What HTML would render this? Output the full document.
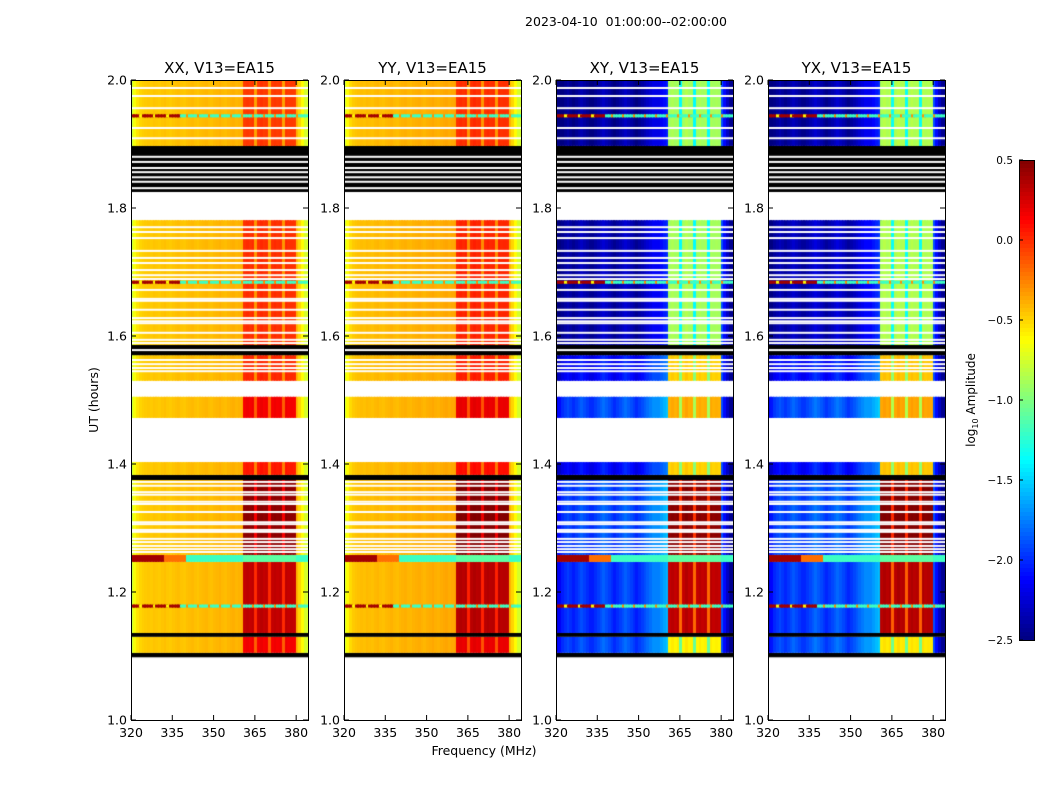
<!DOCTYPE html>
<html><head><meta charset="utf-8"><style>
body{margin:0;background:#fff;}
#wrap{position:relative;width:1050px;height:800px;overflow:hidden;font-family:"DejaVu Sans","Liberation Sans",sans-serif;}
canvas{position:absolute;}
svg{position:absolute;left:0;top:0;}
</style></head><body>
<div id="wrap">
<svg id="svg" width="1050" height="800"></svg>
</div>
<script>
// ---------- data ----------
const panelTitles = ["XX, V13=EA15","YY, V13=EA15","XY, V13=EA15","YX, V13=EA15"];
const panelLeft = [131,344,556,768];
const xTicks = [320,335,350,365,380];
const yTicks = [1.0,1.2,1.4,1.6,1.8,2.0];
const cbTicks = [0.5,0.0,-0.5,-1.0,-1.5,-2.0,-2.5];
// 64 channels 320..383 MHz; parallel-hand baseline (low part 0..40)
const baseXX = [-0.8,-0.65,-0.55,-0.5,-0.48,-0.47,-0.46,-0.47,-0.45,-0.46,-0.47,-0.45,-0.44,-0.46,-0.47,-0.45,-0.44,-0.43,-0.45,-0.46,-0.44,-0.43,-0.42,-0.44,-0.45,-0.43,-0.42,-0.41,-0.43,-0.44,-0.42,-0.41,-0.40,-0.42,-0.43,-0.41,-0.40,-0.39,-0.41,-0.40,-0.39];
const baseXY = [-2.3,-2.2,-2.1,-2.05,-2.0,-2.05,-2.1,-2.05,-2.0,-1.95,-2.0,-2.05,-2.1,-2.1,-2.05,-2.0,-1.95,-1.9,-1.95,-2.0,-2.05,-2.1,-2.05,-2.0,-1.95,-1.9,-1.95,-2.0,-2.05,-2.1,-2.05,-2.0,-1.95,-1.9,-1.85,-1.8,-1.8,-1.8,-1.75,-1.7,-1.65];
// high band channels 41..59 relative pattern
const stripe = [0,0.02,0,0.02,-0.3,0,0.03,0,0.01,-0.3,0,0.02,0,0.01,-0.3,0.02,0,0.01,0];
// right edge channels 60..63
const edgeXX = [-0.4,-0.5,-0.62,-0.75];
const edgeXY = [-1.9,-2.1,-2.3,-2.45];
// segments
const segT0 = [1.098,1.105,1.130,1.136,1.247,1.258,1.375,1.383,1.472,1.530,1.570,1.586,1.825,1.897];
const segT1 = [1.105,1.130,1.136,1.247,1.258,1.375,1.383,1.403,1.505,1.570,1.586,1.781,1.897,2.0];
const segKind = ["black","data","black","data","flag","data","black","data","data","data","black","data","black","data"];
const segHiPar = [0,0.15,0,0.3,0,0.45,0,0.05,0.15,0.0,0,-0.02,0,-0.05];
const segHiCross = [0,-0.6,0,0.3,0,0.45,0,-0.5,-0.4,-0.5,0,-0.9,0,-0.9];
const segLowCross = [0,0.1,0,0.05,0,0.1,0,-0.1,0.1,-0.1,0,-0.35,0,-0.4];
const flagRows = [1.178,1.684,1.944];
const whiteLines = [1.9875,1.975,1.956,1.925,1.909,1.880,1.872,1.8625,1.856,1.848,1.841,1.831,1.770,1.7625,1.753,1.733,1.722,1.714,1.703,1.695,1.689,1.672,1.658,1.655,1.641,1.628,1.623,1.620,1.605,1.594,1.589,1.578,1.5625,1.556,1.55,1.545,1.372,1.366,1.356,1.352,1.341,1.3375,1.325,1.309,1.306,1.297,1.294,1.283,1.278,1.272,1.267,1.2625];

// ---------- scales ----------
const TOP=80,BOT=720,W=177,XMIN=320,XMAX=384.3,VMIN=-2.5,VMAX=0.5;
const yS = t => BOT-(t-1.0)*(BOT-TOP);
const xS = (f,L) => L+(f-XMIN)/(XMAX-XMIN)*W;
function jet(v){
  let x=(v-VMIN)/(VMAX-VMIN); x=Math.max(0,Math.min(1,x));
  const c=t=>Math.round(255*Math.max(0,Math.min(1,t)));
  const r=c(1.5-Math.abs(4*x-3)), g=c(1.5-Math.abs(4*x-2)), b=c(1.5-Math.abs(4*x-1));
  return `rgb(${r},${g},${b})`;
}
function cellVal(ch,cross,hi,low,off){
  if(ch<=40) return (cross?baseXY[ch]+low:baseXX[ch])+off;
  if(ch<=59){ let s=stripe[ch-41]; return hi+(cross?s*1.6:s)+off; }
  return (cross?edgeXY[ch-60]:edgeXX[ch-60]);
}
const svg=document.getElementById('svg'), NS='http://www.w3.org/2000/svg';
function mk(tag,attrs,parent){const e=document.createElementNS(NS,tag);for(const k in attrs)e.setAttribute(k,attrs[k]);(parent||svg).appendChild(e);return e;}

panelTitles.forEach((title,p)=>{
  const L=panelLeft[p], cross=p>=2, off=(p%2)*0.03;
  const cv=document.createElement('canvas');
  cv.width=W;cv.height=BOT-TOP;cv.style.left=L+'px';cv.style.top=TOP+'px';
  
  
  document.getElementById('wrap').insertBefore(cv,svg);
  const ctx=cv.getContext('2d');
  segT0.forEach((t0,i)=>{
    const t1=segT1[i], y0=yS(t1)-TOP, h=yS(t0)-yS(t1);
    if(segKind[i]==='black'){ctx.fillStyle='#000';ctx.fillRect(0,y0,W,h);return;}
    const hi=cross?segHiCross[i]:segHiPar[i];
    for(let ch=0;ch<64;ch++){
      const xa=xS(320+ch,L)-L, xb=xS(321+ch,L)-L;
      let v=segKind[i]==='flag'?(ch<12?0.4:ch<20?-0.2:-1.2):cellVal(ch,cross,hi,segLowCross[i],off);
      if(segKind[i]==='flag'&&ch>40&&ch<60) v=-1.1;
      ctx.fillStyle=jet(v);ctx.fillRect(Math.floor(xa),y0,Math.ceil(xb-xa)+1,h);
    }
  });
  flagRows.forEach(t=>{
    const y=yS(t)-TOP-1.5;
    for(let ch=0;ch<64;ch++){
      const xa=xS(320+ch,L)-L;
      const v=ch<18?(ch%5===3?-0.6:0.4):(ch%4===0?-0.3:-1.2);
      ctx.fillStyle=jet(v);ctx.fillRect(Math.floor(xa),y,4,3);
    }
  });
  ctx.fillStyle='#fff';
  whiteLines.forEach(t=>{ctx.fillRect(0,yS(t)-TOP-1,W,2);});

  const g=mk('g',{});
  mk('rect',{x:L+0.5,y:TOP+0.5,width:W,height:BOT-TOP,fill:'none',stroke:'#000','stroke-width':1,},g);
  const tt=mk('text',{x:L+W/2,y:73,'text-anchor':'middle','font-size':15,},g);tt.textContent=title;
  xTicks.forEach(f=>{
    const x=xS(f,L);
    mk('line',{x1:x,x2:x,y1:BOT,y2:BOT-5,stroke:'#000',},g);
    mk('line',{x1:x,x2:x,y1:TOP,y2:TOP+5,stroke:'#000',},g);
    const t=mk('text',{x:x,y:737,'text-anchor':'middle','font-size':12.5,},g);t.textContent=f;
  });
  yTicks.forEach(v=>{
    const y=yS(v);
    mk('line',{x1:L,x2:L+5,y1:y,y2:y,stroke:'#000',},g);
    mk('line',{x1:L+W,x2:L+W-5,y1:y,y2:y,stroke:'#000',},g);
    const t=mk('text',{x:L-4,y:y+4.5,'text-anchor':'end','font-size':12.5,},g);t.textContent=v.toFixed(1);
  });
});
let t=mk('text',{x:626,y:26,'text-anchor':'middle','font-size':12.5,style:'white-space:pre',});t.textContent='2023-04-10  01:00:00--02:00:00';
t=mk('text',{x:484,y:755,'text-anchor':'middle','font-size':12.5,});t.textContent='Frequency (MHz)';
t=mk('text',{x:0,y:0,'text-anchor':'middle','font-size':12.5,transform:'translate(98,400) rotate(-90)',});t.textContent='UT (hours)';
// colorbar
const CB={x:1019,w:15,y0:160,y1:640};
const cg=mk('g',{});
for(let i=0;i<120;i++){
  const v=VMAX-(i+0.5)/120*(VMAX-VMIN);
  mk('rect',{x:CB.x,y:CB.y0+i*4,width:CB.w,height:4.3,fill:jet(v),},cg);
}
mk('rect',{x:CB.x+0.5,y:CB.y0+0.5,width:CB.w,height:CB.y1-CB.y0,fill:'none',stroke:'#000',},cg);
cbTicks.forEach(v=>{
  const y=CB.y0+(VMAX-v)/(VMAX-VMIN)*(CB.y1-CB.y0);
  mk('line',{x1:CB.x,x2:CB.x+4,y1:y,y2:y,stroke:'#000',},cg);
  const tx=mk('text',{x:1013,y:y+4,'text-anchor':'end','font-size':10.5,},cg);
  tx.textContent=(v<0?'\u2212':'')+Math.abs(v).toFixed(1);
});
t=mk('text',{x:0,y:0,'text-anchor':'middle','font-size':12,transform:'translate(975,400) rotate(-90)',},cg);
t.innerHTML='log<tspan font-size="8" dy="3">10</tspan><tspan dy="-3"> Amplitude</tspan>';
</script>
</body></html>
